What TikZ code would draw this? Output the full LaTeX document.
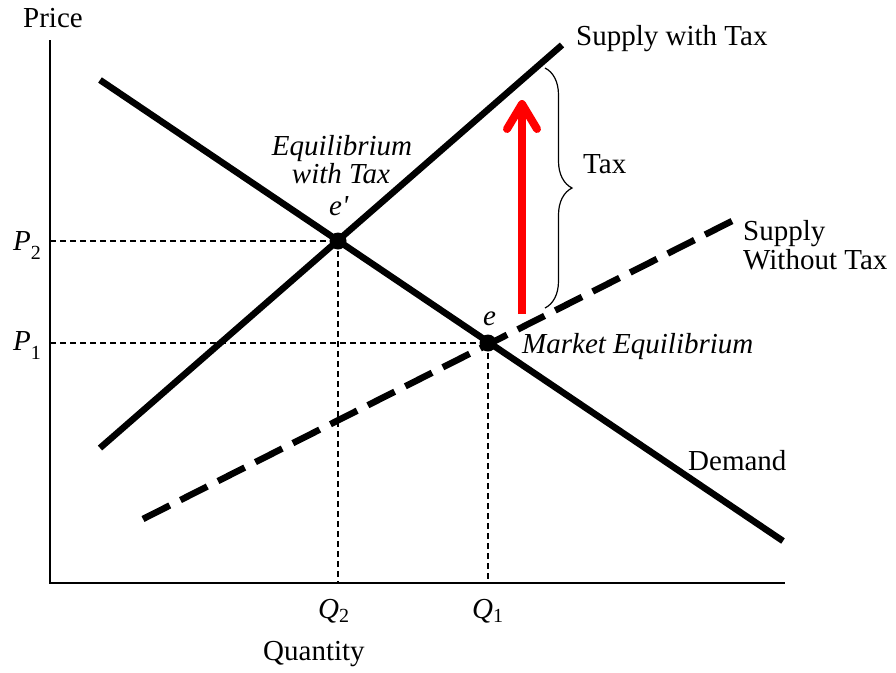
\documentclass[tikz,border=0pt]{standalone}
\usepackage{fontspec}
\setmainfont{Liberation Serif}
\usetikzlibrary{decorations.pathreplacing}
\begin{document}
\begin{tikzpicture}[x=1pt,y=-1pt,
  curve/.style={line width=6.5pt},
  dashcurve/.style={line width=6.5pt, dash pattern=on 30pt off 12pt},
  axis/.style={line width=1.6pt},
  guide/.style={line width=1.2pt, dash pattern=on 6pt off 4pt},
  lbl/.style={font=\fontsize{29}{32}\selectfont, inner sep=0pt, anchor=base west},
  ilbl/.style={font=\fontsize{29}{32}\selectfont\itshape, inner sep=0pt, anchor=base west},
  dot/.style={circle, fill=black, minimum size=17pt, inner sep=0pt},
  taxarrow/.style={draw=red, line width=8pt}
]
\useasboundingbox (0,0) rectangle (896,672);
% key points
\coordinate (O) at (50,583);
\coordinate (Ytop) at (50,40);
\coordinate (Xend) at (785,583);
\coordinate (D1) at (100,80);
\coordinate (D2) at (783,541);
\coordinate (S1) at (100,448);
\coordinate (S2) at (562,45);
\coordinate (N1) at (143,519);
\coordinate (N2) at (734,220);
\coordinate (epc) at (338,241);
\coordinate (ec) at (488,343);
\coordinate (P2) at (50,241);
\coordinate (P1) at (50,343);
\coordinate (Q2) at (338,583);
\coordinate (Q1) at (488,583);
% guides
\draw[guide] (P2) -- (epc);
\draw[guide] (epc) -- (Q2);
\draw[guide] (P1) -- (ec);
\draw[guide] (ec) -- (Q1);
% axes
\draw[axis] (Ytop) -- (O) -- (Xend);
% curves
\draw[curve] (D1) -- (D2);
\draw[curve] (S1) -- (S2);
\draw[dashcurve] (N1) -- (N2);
% equilibrium dots
\node[dot] (ep) at (epc) {};
\node[dot] (e) at (ec) {};
% brace
\draw[line width=1.2pt, decorate, decoration={brace, amplitude=27pt}] (545,68) -- (545,308);
% red arrow
\coordinate (Rb) at (522,314);
\coordinate (Rt) at (522,104);
\coordinate (Rl) at (507,129);
\coordinate (Rr) at (537,129);
\draw[taxarrow] (Rb) -- (Rt);
\draw[taxarrow, line cap=round, line join=round] (Rl) -- (Rt) -- (Rr);
% labels
\node[lbl] (price) at (23,27) {Price};
\node[ilbl] (p2) at (13,250) {P\raisebox{-9pt}{\fontsize{20}{20}\selectfont\upshape 2}};
\node[ilbl] (p1) at (13,350) {P\raisebox{-9pt}{\fontsize{20}{20}\selectfont\upshape 1}};
\node[ilbl] (q2) at (318,618) {Q\raisebox{-4pt}{\fontsize{20}{20}\selectfont\upshape 2}};
\node[ilbl] (q1) at (472,618) {Q\raisebox{-4pt}{\fontsize{20}{20}\selectfont\upshape 1}};
\node[lbl] (qty) at (263,660) {Quantity};
\node[ilbl, anchor=base] (eqt1) at (342,155) {Equilibrium};
\node[ilbl, anchor=base] (eqt2) at (341,183) {with Tax};
\node[ilbl] (eplbl) at (329,215) {e\textquotesingle};
\node[ilbl] (elbl) at (483,325) {e};
\node[ilbl] (mkt) at (522,353) {Market Equilibrium};
\node[lbl] (swt) at (576,45) {Supply with Tax};
\node[lbl] (tax) at (583,173) {Tax};
\node[lbl] (s1) at (743,240) {Supply};
\node[lbl] (s2) at (743,269) {Without Tax};
\node[lbl] (dem) at (688,470) {Demand};
\end{tikzpicture}
\end{document}
